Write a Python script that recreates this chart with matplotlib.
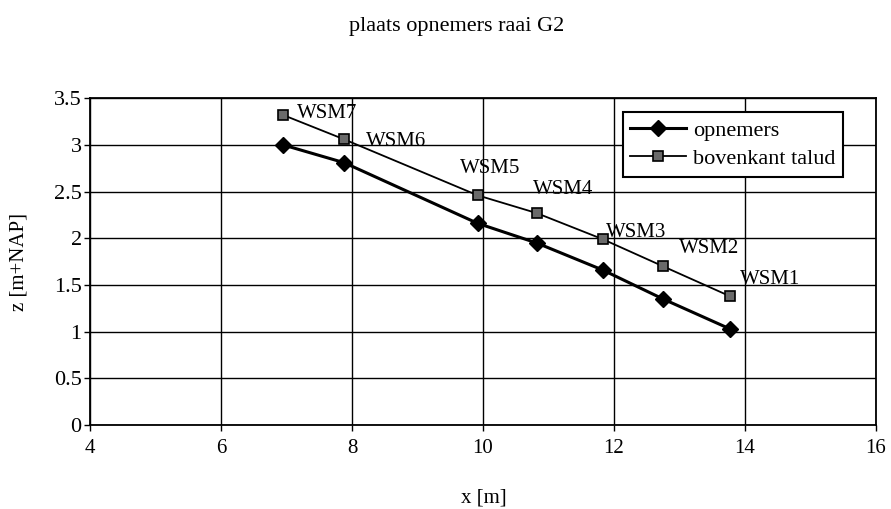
import matplotlib
matplotlib.use("Agg")
import matplotlib.pyplot as plt

# Measurement positions along transect G2
x_pos = [6.95, 7.88, 9.92, 10.82, 11.83, 12.75, 13.77]
z_opnemers = [3.00, 2.81, 2.16, 1.95, 1.66, 1.35, 1.03]
z_talud = [3.32, 3.06, 2.46, 2.27, 1.99, 1.70, 1.38]
labels = ["WSM7", "WSM6", "WSM5", "WSM4", "WSM3", "WSM2", "WSM1"]

x_ticks = [4, 6, 8, 10, 12, 14, 16]
y_ticks = [0, 0.5, 1, 1.5, 2, 2.5, 3, 3.5]

# label offsets in pixels (left edge, vertical centre) relative to the square marker
label_offsets = [(14, 2), (22, -2), (-18, 27), (-4, 24), (3, 7), (16, 18), (10, 17)]

plt.rcParams["font.family"] = ["Liberation Serif", "DejaVu Serif"]

W, H = 891, 509
fig = plt.figure(figsize=(W / 100, H / 100), dpi=100)
ax = fig.add_axes([0.101, 0.165, 0.882, 0.642])

ax.set_xlim(4, 16)
ax.set_ylim(0, 3.5)
ax.set_xticks(x_ticks)
ax.set_yticks(y_ticks)
ax.set_xticklabels([str(v) for v in x_ticks])
ax.set_yticklabels([f"{v:g}" for v in y_ticks])
ax.grid(True, color="black", linewidth=1.0)
ax.set_axisbelow(True)
for s in ax.spines.values():
    s.set_color("black")
    s.set_linewidth(1.3)
ax.tick_params(axis="both", colors="black", direction="out", length=4, width=1.0)
ax.tick_params(axis="x", labelsize=15, pad=6)
ax.tick_params(axis="y", labelsize=16, pad=2)

ax.plot(x_pos, z_opnemers, color="black", linewidth=2.2, marker="D",
        markersize=8, markerfacecolor="black", markeredgecolor="black",
        label="opnemers", zorder=3)
ax.plot(x_pos, z_talud, color="black", linewidth=1.3, marker="s",
        markersize=7.5, markerfacecolor="#6a6a6a", markeredgecolor="black",
        markeredgewidth=1.2, label="bovenkant talud", zorder=3)

for xv, zv, lab, (dx, dy) in zip(x_pos, z_talud, labels, label_offsets):
    ax.annotate(lab, (xv, zv), xytext=(dx, dy), textcoords="offset pixels",
                ha="left", va="center", fontsize=15, color="black")

leg = ax.legend(loc="upper right", bbox_to_anchor=(0.958, 0.957),
                fontsize=16, frameon=True, fancybox=False, borderpad=0.35,
                handlelength=2.5, handletextpad=0.3, labelspacing=0.35,
                borderaxespad=0)
leg.get_frame().set_edgecolor("black")
leg.get_frame().set_linewidth(1.5)
leg.get_frame().set_alpha(1)

fig.text(484 / W, 1 - 498 / H, "x [m]", ha="center", va="center", fontsize=15)
fig.text(19 / W, 1 - 262 / H, "z [m+NAP]", ha="center", va="center",
         rotation=90, fontsize=15)
fig.text(457 / W, 1 - 26 / H, "plaats opnemers raai G2", ha="center",
         va="center", fontsize=16)

fig.savefig("out.png", dpi=100)
